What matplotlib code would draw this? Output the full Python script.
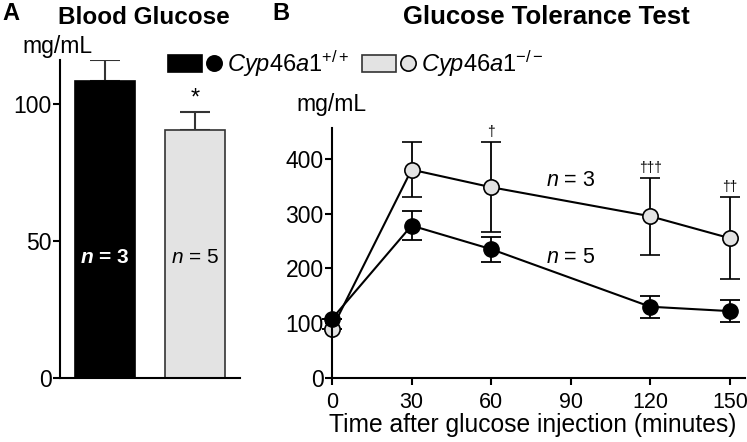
import matplotlib.pyplot as plt
from matplotlib.patches import Rectangle
from matplotlib.lines import Line2D

plt.rcParams['font.family'] = ['Liberation Sans', 'DejaVu Sans']
plt.rcParams['mathtext.fontset'] = 'custom'
plt.rcParams['mathtext.rm'] = 'Liberation Sans'
plt.rcParams['mathtext.it'] = 'Liberation Sans:italic'
plt.rcParams['mathtext.bf'] = 'Liberation Sans:bold:italic'

# Panel A: blood glucose
groups = ['Cyp46a1+/+', 'Cyp46a1-/-']
bar_means = [108.5, 90.5]
bar_err = [7.5, 6.5]
bar_n = ['3', '5']

# Panel B: glucose tolerance test
times = [0, 30, 60, 120, 150]
wt_mean = [108, 278, 235, 130, 122]
wt_err = [0, 27, 23, 20, 20]
ko_mean = [90, 380, 348, 295, 255]
ko_err = [0, 50, 82, 70, 75]
ko_marks = ['', '', '†', '†††', '††']

BLACK = '#000000'
GREY = '#e3e3e3'
YTICK_FS = 16.5
XTICK_FS = 15.5

fig = plt.figure(figsize=(7.47, 4.42), dpi=100)

# ---------- Panel A ----------
axA = fig.add_axes([60/747, 1 - 378/442, 180/747, 318/442])
axA.bar([0, 1], bar_means, width=0.667, color=[BLACK, GREY],
        edgecolor=['black', '#333333'], linewidth=1.2, zorder=2)
axA.errorbar([0, 1], bar_means, yerr=[[0, 0], bar_err], fmt='none',
             ecolor='#333333', elinewidth=1.5, capsize=11, capthick=1.5, zorder=1)
axA.set_xlim(-0.5, 1.5)
axA.set_ylim(0, 116)
axA.set_yticks([0, 50, 100])
axA.set_xticks([])
for s in ['top', 'right']:
    axA.spines[s].set_visible(False)
axA.spines['left'].set_linewidth(1.5)
axA.spines['bottom'].set_linewidth(1.5)
axA.tick_params(axis='y', labelsize=YTICK_FS, width=1.5, length=5, pad=1)
axA.text(0, 44, r'$\mathbf{n}$ = 3', color='white', fontsize=15,
         fontweight='bold', ha='center', va='center')
axA.text(1, 44, r'$\mathit{n}$ = 5', color='black', fontsize=15,
         ha='center', va='center')
axA.text(1, bar_means[1] + bar_err[1] + 1.0, '*', fontsize=17, ha='center', va='bottom')
fig.text(57/747, 1 - 47/442, 'mg/mL', fontsize=16.5, ha='center', va='center')

# ---------- Panel B ----------
axB = fig.add_axes([332/747, 1 - 378/442, 413/747, 250/442])
axB.errorbar(times, ko_mean, yerr=ko_err, fmt='-o', color='black', lw=1.5,
             mfc=GREY, mec='black', mew=1.2, ms=11, elinewidth=1.3,
             capsize=7, capthick=1.3, clip_on=False, zorder=2)
axB.errorbar(times, wt_mean, yerr=wt_err, fmt='-o', color='black', lw=1.5,
             mfc=BLACK, mec='black', ms=11, elinewidth=1.3,
             capsize=7, capthick=1.3, clip_on=False, zorder=3)
for t, m, e, mk in zip(times, ko_mean, ko_err, ko_marks):
    if mk:
        axB.text(t, m + e + 6, mk, fontsize=10, ha='center', va='bottom')
axB.set_xlim(0, 155.7)
axB.set_ylim(0, 456)
axB.set_xticks([0, 30, 60, 90, 120, 150])
axB.set_yticks([0, 100, 200, 300, 400])
for s in ['top', 'right']:
    axB.spines[s].set_visible(False)
axB.spines['left'].set_linewidth(1.5)
axB.spines['bottom'].set_linewidth(1.5)
axB.tick_params(axis='y', labelsize=YTICK_FS, width=1.5, length=5, pad=1)
axB.tick_params(axis='x', labelsize=XTICK_FS, width=1.5, length=5, pad=5)
fig.text(533/747, 1 - 425/442, 'Time after glucose injection (minutes)',
         fontsize=17.7, ha='center', va='center')
axB.text(90, 360, r'$\mathit{n}$ = 3', fontsize=15.5, ha='center', va='center')
axB.text(90, 219, r'$\mathit{n}$ = 5', fontsize=15.5, ha='center', va='center')
fig.text(332/747, 1 - 104/442, 'mg/mL', fontsize=16.5, ha='center', va='center')

# ---------- titles, panel letters ----------
fig.text(2/747, 1 - 14/442, 'A', fontsize=17, fontweight='bold', va='center')
fig.text(272/747, 1 - 14/442, 'B', fontsize=17, fontweight='bold', va='center')
fig.text(144/747, 1 - 17/442, 'Blood Glucose', fontsize=17.5, fontweight='bold',
         ha='center', va='center')
fig.text(546/747, 1 - 17/442, 'Glucose Tolerance Test', fontsize=18.5,
         fontweight='bold', ha='center', va='center')

# ---------- legend ----------
def legend_entry(x0, face, edge, label):
    fig.patches.append(Rectangle((x0/747, 1 - 72/442), 34/747, 17/442,
                                 transform=fig.transFigure, facecolor=face,
                                 edgecolor=edge, linewidth=1.2))
    fig.lines.append(Line2D([(x0 + 46)/747], [1 - 63.5/442], marker='o', ms=11,
                            mfc=face, mec='black', mew=1.2,
                            transform=fig.transFigure))
    fig.text((x0 + 59)/747, 1 - 64/442, label, fontsize=17, va='center')

legend_entry(168, BLACK, 'black', r'$\mathit{Cyp46a1}^{\mathrm{+/+}}$')
legend_entry(362, GREY, '#333333', r'$\mathit{Cyp46a1}^{\mathrm{-/-}}$')

fig.savefig('out.png', dpi=100)
